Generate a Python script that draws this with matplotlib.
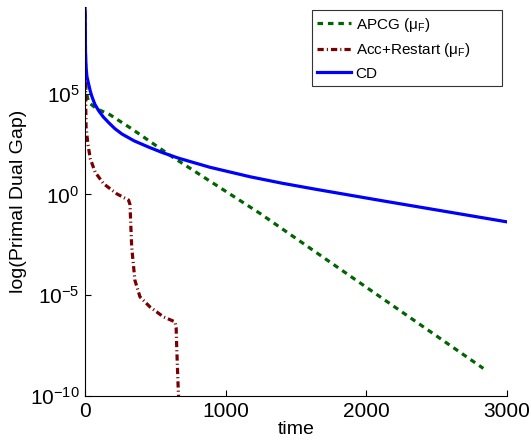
import numpy as np
import matplotlib
matplotlib.use("Agg")
import matplotlib.pyplot as plt

plt.rcParams['font.family'] = ['Liberation Sans', 'DejaVu Sans']
plt.rcParams['mathtext.fontset'] = 'custom'
plt.rcParams['mathtext.rm'] = 'Liberation Sans'
plt.rcParams['mathtext.it'] = 'Liberation Sans'
plt.rcParams['mathtext.bf'] = 'Liberation Sans:bold'
plt.rcParams['lines.scale_dashes'] = False

# Data (time, log10 of primal-dual gap)
cd_t = [0, 4, 8, 14, 26, 38, 50, 70, 97, 130, 168, 212, 263, 350, 453, 550, 666, 888, 1173, 1400, 1647, 2120, 2594, 3000]
cd_log = [9.6, 7.0, 6.3, 5.85, 5.48, 5.12, 4.85, 4.48, 4.16, 3.85, 3.57, 3.27, 3.0, 2.66, 2.35, 2.08, 1.8, 1.35, 0.88, 0.56, 0.25, -0.32, -0.88, -1.36]

apcg_t = [0, 3, 5, 7, 26, 85, 168, 334, 618, 1244, 1741, 2831]
apcg_log = [9.6, 7.5, 6.0, 5.15, 4.57, 4.24, 4.0, 3.25, 1.88, -0.94, -3.35, -8.63]

acc_t = [0, 4, 6, 8, 21, 38, 73, 133, 227, 310, 320, 332, 355, 391, 462, 557, 640, 648, 652, 663, 670]
acc_log = [9.6, 6.0, 4.16, 3.33, 2.5, 1.77, 1.1, 0.53, 0.03, -0.28, -0.5, -2.6, -4.26, -5.08, -5.58, -6.07, -6.32, -6.6, -7.56, -9.7, -10.6]

labels = ['APCG ($\\mu_F$)', 'Acc+Restart ($\\mu_F$)', 'CD']
xticks = [0, 1000, 2000, 3000]
yticks = [1e-10, 1e-5, 1e0, 1e5]

fig = plt.figure(figsize=(5.31, 4.41), dpi=100)
ax = fig.add_axes([0.160, 0.102, 0.795, 0.882])

ax.plot(apcg_t, 10 ** np.array(apcg_log), color='#006400', lw=2.3, dashes=(4, 3.5), label=labels[0])
ax.plot(acc_t, 10 ** np.array(acc_log), color='#7a0000', lw=2.3, dashes=(4.5, 2.2, 0.8, 2.2), label=labels[1])
ax.plot(cd_t, 10 ** np.array(cd_log), color='#0000ff', lw=2.3, label=labels[2])

ax.set_yscale('log')
ax.set_xlim(0, 3000)
ax.set_ylim(1e-10, 10 ** 9.3)
ax.set_xticks(xticks)
ax.set_yticks(yticks)
ax.yaxis.set_minor_locator(matplotlib.ticker.NullLocator())
ax.tick_params(direction='in', length=4, width=0.8, labelsize=15, pad=4)

for s in ['top', 'right']:
    ax.spines[s].set_visible(False)
for s in ['left', 'bottom']:
    ax.spines[s].set_linewidth(0.8)

ax.set_xlabel('time', fontsize=14, labelpad=0)
ax.set_ylabel('log(Primal Dual Gap)', fontsize=14, labelpad=2)

leg = ax.legend(loc='upper left', bbox_to_anchor=(0.538, 0.80, 0.45, 0.192), mode='expand',
                fontsize=11, frameon=True, fancybox=False, handlelength=2.2,
                borderaxespad=0, handletextpad=0.3, labelspacing=0.5, borderpad=0.35)
leg.get_frame().set_edgecolor('black')
leg.get_frame().set_linewidth(0.8)

fig.savefig('out.png', dpi=100)
